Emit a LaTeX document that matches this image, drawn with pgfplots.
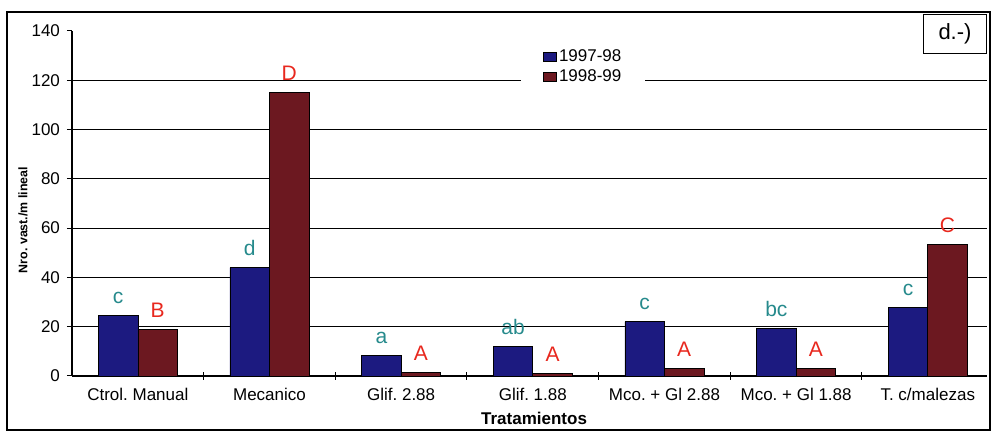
\documentclass[border=0pt]{standalone}
\usepackage{pgfplots}
\pgfplotsset{compat=1.18}
\usepackage{fontspec}
\setmainfont{Liberation Sans}
\frenchspacing

\definecolor{barblue}{RGB}{28,26,128}
\definecolor{barred}{RGB}{108,24,32}
\definecolor{lettlow}{RGB}{38,138,140}
\definecolor{lettup}{RGB}{232,40,30}

\begin{document}
\begin{tikzpicture}
\begin{axis}[
    scale only axis,
    width=457.5pt, height=172.5pt,
    at={(0,0)}, anchor=south west,
    ybar=0pt, bar width=0.3,
    xmin=-0.5, xmax=6.45,
    ymin=0, ymax=140,
    ytick={0,20,...,120},
    extra y ticks={140},
    extra y tick style={grid=none},
    ymajorgrids,
    grid style={black, line width=0.6pt},
    xtick={0,...,6},
    xticklabels={Ctrol. Manual, Mecanico, Glif. 2.88, Glif. 1.88, Mco. + Gl 2.88, Mco. + Gl 1.88, T. c/malezas},
    xtick style={draw=none},
    extra x ticks={0.5,1.5,...,5.5},
    extra x tick labels={},
    extra x tick style={xtick style={draw=black, line width=0.5pt}, major tick length=4pt, tick align=center},
    axis x line*=bottom, axis y line*=left,
    axis line style={black, line width=0.7pt, -},
    tick align=outside,
    major tick length=2.5pt,
    ytick style={black, line width=0.5pt},
    tick label style={font=\fontsize{8.5}{9}\selectfont},
    /pgf/number format/assume math mode=true,
    xlabel={Tratamientos},
    xlabel style={font=\fontsize{8.5}{9}\selectfont\bfseries, at={(axis description cs:0.505,-0.122)}, anchor=center},
    ylabel={Nro. vast./m lineal},
    ylabel style={font=\fontsize{6.2}{7}\selectfont\bfseries, at={(axis description cs:-0.0536,0.452)}, anchor=center},
    legend style={at={(axis description cs:0.4907,0.974)}, anchor=north west,
        draw=none, fill=white, inner xsep=11pt, inner ysep=3pt,
        font=\fontsize{8.5}{9}\selectfont, row sep=0pt,
        nodes={inner ysep=1.4pt, inner xsep=1pt}},
    legend cell align=left,
    legend image code/.code={\draw[#1] (0pt,-2.3pt) rectangle (6.5pt,2.3pt);},
    nodes near coords,
    point meta=explicit symbolic,
    every node near coord/.append style={font=\fontsize{10.5}{10.5}\selectfont, anchor=base, yshift=6pt, inner sep=0pt},
]
\addplot[fill=barblue, draw=black, line width=0.3pt,
    every node near coord/.append style={text=lettlow}] coordinates {
    (0,24.5) [c] (1,44) [d] (2,8.3) [a] (3,12) [ab]
    (4,22) [c] (5,19.3) [bc] (6,27.8) [c]
};
\addlegendentry{1997-98}
\addplot[fill=barred, draw=black, line width=0.3pt,
    every node near coord/.append style={text=lettup}] coordinates {
    (0,19) [B] (1,115) [D] (2,1.5) [A] (3,1) [A]
    (4,3.2) [A] (5,3) [A] (6,53.3) [C]
};
\addlegendentry{1998-99}
\end{axis}
\draw[black, line width=0.6pt] (-32.5pt,-27pt) rectangle (459pt,182pt);
\node[draw=black, line width=0.5pt, minimum width=31.5pt, minimum height=19.5pt, anchor=north west,
    font=\fontsize{11}{11}\selectfont] at (425.5pt,181pt) {d.-)};
\path[use as bounding box] (-36pt,-28pt) rectangle (459.5pt,188pt);
\end{tikzpicture}
\end{document}
